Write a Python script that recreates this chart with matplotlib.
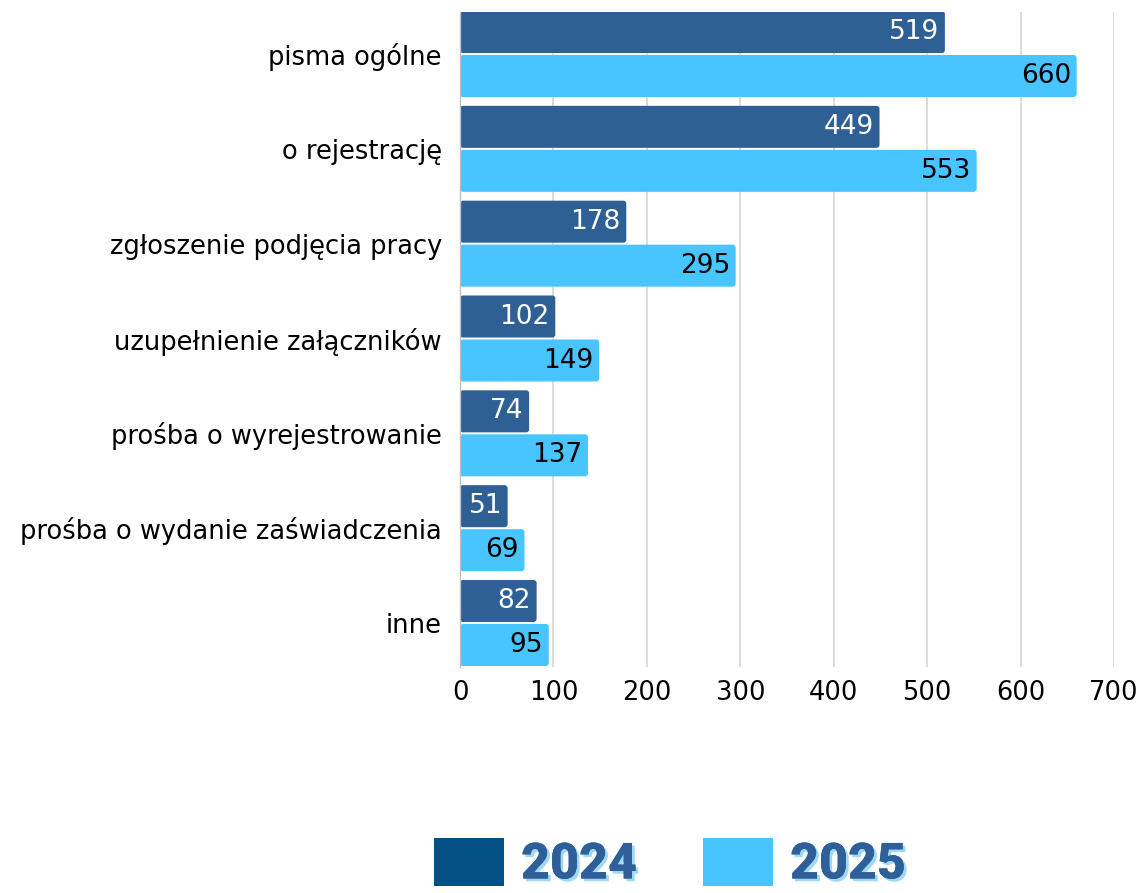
import matplotlib
matplotlib.use("Agg")
import matplotlib.pyplot as plt
import matplotlib.patheffects as pe
from matplotlib.patches import Patch, FancyBboxPatch
import numpy as np

categories = ["pisma ogólne", "o rejestrację", "zgłoszenie podjęcia pracy",
              "uzupełnienie załączników", "prośba o wyrejestrowanie",
              "prośba o wydanie zaświadczenia", "inne"]
values_2024 = [519, 449, 178, 102, 74, 51, 82]
values_2025 = [660, 553, 295, 149, 137, 69, 95]
series_labels = ["2024", "2025"]
xticks = [0, 100, 200, 300, 400, 500, 600, 700]

plt.rcParams['font.family'] = ['DejaVu Sans']

c2024 = "#2E6096"
c2025 = "#48C4FE"
legend_c2024 = "#044F83"

fig = plt.figure(figsize=(11.4, 8.93), dpi=100)
ax = fig.add_axes([460/1140, 1-667/893, (1114-460)/1140, (667-12)/893])

y = np.arange(len(categories))
h = 0.443
off = 0.232
b1 = ax.barh(y - off, values_2024, height=h, color=c2024, zorder=3)
b2 = ax.barh(y + off, values_2025, height=h, color=c2025, zorder=3)

# rounded bar ends
for bars, col in ((b1, c2024), (b2, c2025)):
    for rect in bars:
        rect.set_visible(False)
        fb = FancyBboxPatch((rect.get_x(), rect.get_y()), rect.get_width(), rect.get_height(),
                            boxstyle="round,pad=0,rounding_size=3.2", mutation_aspect=0.01,
                            facecolor=col, edgecolor="none", zorder=3)
        ax.add_patch(fb)

for rect, v in zip(b1, values_2024):
    ax.text(v - 6, rect.get_y() + rect.get_height()/2, str(v), ha="right", va="center",
            color="white", fontsize=19, zorder=4)
for rect, v in zip(b2, values_2025):
    ax.text(v - 6, rect.get_y() + rect.get_height()/2, str(v), ha="right", va="center",
            color="black", fontsize=19, zorder=4)

ax.set_xlim(0, 700)
ax.set_ylim(len(categories) - 1 + 0.464, -0.443)
ax.set_yticks(y)
ax.set_yticklabels(categories, fontsize=18.5)
ax.set_xticks(xticks)
ax.set_xticklabels([str(t) for t in xticks], fontsize=18.5)
ax.tick_params(axis="x", length=0, pad=9)
ax.tick_params(axis="y", length=0, pad=13)
ax.grid(axis="x", color="#D9D9D9", linewidth=1.3, zorder=0)
for s in ["top", "right", "bottom"]:
    ax.spines[s].set_visible(False)
ax.spines["left"].set_color("#BFBFBF")
ax.spines["left"].set_linewidth(1.0)
ax.spines["left"].set_zorder(5)

handles = [Patch(facecolor=legend_c2024, edgecolor="none"),
           Patch(facecolor=c2025, edgecolor="none")]
leg = fig.legend(handles, series_labels, loc="center", bbox_to_anchor=(670/1140, 1-863/893),
                 ncol=2, frameon=False,
                 prop={"family": "Roboto", "size": 36, "weight": "black"},
                 handlelength=1.4, handleheight=1.1, handletextpad=0.34, columnspacing=1.32)
for t in leg.get_texts():
    t.set_color("#2E5F98")
    t.set_path_effects([pe.withSimplePatchShadow(offset=(2, -2), shadow_rgbFace="#9BD9F7", alpha=1.0),
                        pe.Normal()])

fig.savefig("out.png", dpi=100)
